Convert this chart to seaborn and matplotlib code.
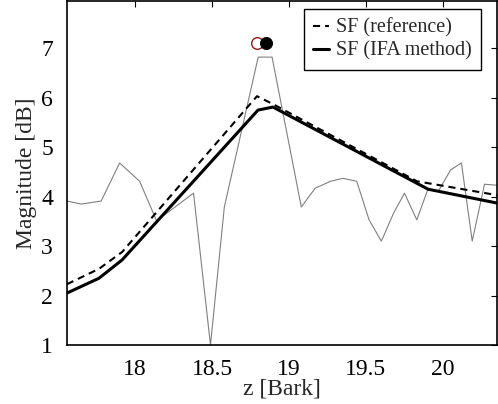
import matplotlib
matplotlib.use("Agg")
import matplotlib.pyplot as plt
import seaborn as sns

sns.set_theme(style="white")
plt.rcParams['font.family'] = ['Liberation Serif', 'DejaVu Serif']

# Spectrum (thin grey line)
z_spec = [17.558, 17.65, 17.78, 17.90, 18.03, 18.14, 18.38, 18.49, 18.58, 18.80,
          18.89, 19.08, 19.17, 19.27, 19.35, 19.44, 19.52, 19.60, 19.68, 19.75,
          19.83, 19.90, 19.97, 20.05, 20.12, 20.19, 20.27, 20.351]
mag_spec = [3.91, 3.85, 3.91, 4.68, 4.31, 3.51, 4.07, 1.0, 3.79, 6.82,
            6.82, 3.79, 4.17, 4.31, 4.37, 4.31, 3.53, 3.10, 3.67, 4.07,
            3.53, 4.13, 4.11, 4.54, 4.68, 3.10, 4.25, 4.23]

# SF (reference), dashed
z_ref = [17.558, 17.766, 17.916, 18.792, 18.896, 19.831, 20.351]
sf_ref = [2.23, 2.54, 2.88, 6.03, 5.87, 4.31, 4.03]

# SF (IFA method), solid
z_ifa = [17.558, 17.766, 17.916, 18.799, 18.896, 19.903, 20.351]
sf_ifa = [2.05, 2.35, 2.72, 5.75, 5.81, 4.15, 3.87]

# peak markers
z_open, mag_open = [18.79], [7.10]
z_fill, mag_fill = [18.85], [7.10]

fig = plt.figure(figsize=(4.98, 4.04), dpi=100)
ax = fig.add_axes([0.1345, 0.146, 0.8635, 0.851])

sns.lineplot(x=z_spec, y=mag_spec, ax=ax, color="#808080", lw=0.8, sort=False)
sns.lineplot(x=z_ref, y=sf_ref, ax=ax, color="black", lw=1.5,
             linestyle=(0, (3.4, 2.4)), label="SF (reference)", sort=False)
sns.lineplot(x=z_ifa, y=sf_ifa, ax=ax, color="black", lw=2.2,
             label="SF (IFA method)", sort=False)
sns.scatterplot(x=z_open, y=mag_open, ax=ax, s=70, facecolor="white",
                edgecolor="#8b1a1a", linewidth=1.0, zorder=5)
sns.scatterplot(x=z_fill, y=mag_fill, ax=ax, s=75, color="black",
                edgecolor="black", zorder=6)

ax.set_xlim(17.558, 20.351)
ax.set_ylim(1, 7.95)
ax.set_xticks([18, 18.5, 19, 19.5, 20])
ax.set_xticklabels(["18", "18.5", "19", "19.5", "20"])
ax.set_yticks([1, 2, 3, 4, 5, 6, 7])
ax.tick_params(direction="in", length=4, width=0.8, top=True, right=True,
               labelsize=17, colors="black", pad=10)
for sp in ax.spines.values():
    sp.set_color("black")
    sp.set_linewidth(1.2)

ax.set_xlabel("z [Bark]", fontsize=17, labelpad=-1)
ax.set_ylabel("Magnitude [dB]", fontsize=17, labelpad=3)

leg = ax.legend(loc="upper right", fontsize=14.5, frameon=True, fancybox=False,
                edgecolor="black", framealpha=1, handlelength=0.8,
                handletextpad=0.35, borderpad=0.45, labelspacing=0.2,
                borderaxespad=0, bbox_to_anchor=(0.963, 0.977))
leg.get_frame().set_linewidth(1.0)

fig.savefig("out.png", dpi=100)
